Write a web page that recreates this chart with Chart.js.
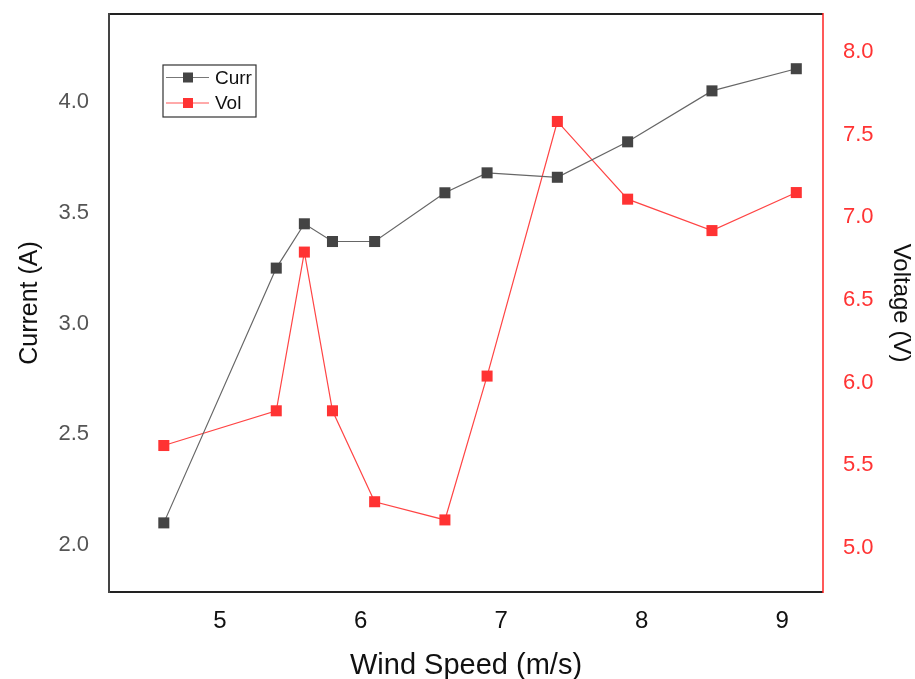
<!DOCTYPE html>
<html>
<head>
<meta charset="utf-8">
<script src="https://cdn.jsdelivr.net/npm/chart.js@4"></script>
<style>
html,body{margin:0;padding:0;background:#fff;}
#wrap{position:relative;width:915px;height:679px;}
</style>
</head>
<body>
<div id="wrap"><canvas id="c" width="915" height="679"></canvas></div>
<script>
const windSpeed = [4.6, 5.4, 5.6, 5.8, 6.1, 6.6, 6.9, 7.4, 7.9, 8.5, 9.1];
const current = [2.10, 3.25, 3.45, 3.37, 3.37, 3.59, 3.68, 3.66, 3.82, 4.05, 4.15];
const voltage = [5.62, 5.83, 6.79, 5.83, 5.28, 5.17, 6.04, 7.58, 7.11, 6.92, 7.15];
const xTicks = [5, 6, 7, 8, 9];
const currentTicks = [2.0, 2.5, 3.0, 3.5, 4.0];
const voltageTicks = [5.0, 5.5, 6.0, 6.5, 7.0, 7.5, 8.0];

const FONT = "'Liberation Sans', Arial, sans-serif";
const curData = windSpeed.map((x, i) => ({x, y: current[i]}));
const volData = windSpeed.map((x, i) => ({x, y: voltage[i]}));

function noPad(s) { s.paddingTop = 0; s.paddingBottom = 0; s.paddingLeft = 0; s.paddingRight = 0; }

const framePlugin = {
  id: 'frame',
  afterDraw(chart) {
    const {ctx, chartArea: a} = chart;
    ctx.save();
    ctx.lineWidth = 2;
    ctx.strokeStyle = '#222';
    ctx.beginPath();
    ctx.moveTo(a.right, a.top); ctx.lineTo(a.left, a.top);
    ctx.moveTo(a.left, a.bottom); ctx.lineTo(a.right, a.bottom);
    ctx.stroke();
    ctx.strokeStyle = '#444';
    ctx.beginPath();
    ctx.moveTo(a.left, a.top - 1); ctx.lineTo(a.left, a.bottom + 1);
    ctx.stroke();
    ctx.strokeStyle = '#ff2222';
    ctx.lineWidth = 1.5;
    ctx.beginPath();
    ctx.moveTo(a.right, a.top - 1); ctx.lineTo(a.right, a.bottom + 1);
    ctx.stroke();

    // legend
    const lx = 163, ly = 65, lw = 93, lh = 52;
    ctx.lineWidth = 1.2;
    ctx.strokeStyle = '#333';
    ctx.strokeRect(lx, ly, lw, lh);
    const items = [
      {label: 'Curr', line: '#777', fill: '#444', y: ly + 12.5},
      {label: 'Vol', line: '#ff5555', fill: '#ff3333', y: ly + 38}
    ];
    items.forEach(it => {
      ctx.strokeStyle = it.line;
      ctx.lineWidth = 1;
      ctx.beginPath();
      ctx.moveTo(lx + 3, it.y); ctx.lineTo(lx + 46, it.y);
      ctx.stroke();
      ctx.fillStyle = it.fill;
      ctx.fillRect(lx + 20, it.y - 5, 10, 10);
      ctx.fillStyle = '#111';
      ctx.font = '19px ' + FONT;
      ctx.textBaseline = 'middle';
      ctx.textAlign = 'left';
      ctx.fillText(it.label, lx + 52, it.y + 1);
    });
    ctx.restore();
  }
};

new Chart(document.getElementById('c'), {
  type: 'scatter',
  data: {
    datasets: [
      {
        label: 'Curr', data: curData, yAxisID: 'y', showLine: true,
        borderColor: '#666', borderWidth: 1.2,
        pointStyle: 'rect', pointRadius: 7.8, pointHoverRadius: 7.8,
        pointBackgroundColor: '#444', pointBorderColor: '#444', pointBorderWidth: 0
      },
      {
        label: 'Vol', data: volData, yAxisID: 'y1', showLine: true,
        borderColor: '#ff4444', borderWidth: 1.2,
        pointStyle: 'rect', pointRadius: 7.8, pointHoverRadius: 7.8,
        pointBackgroundColor: '#ff3333', pointBorderColor: '#ff3333', pointBorderWidth: 0
      }
    ]
  },
  options: {
    responsive: false,
    animation: false,
    layout: {padding: {top: 14, left: 0, right: 0, bottom: 0}},
    plugins: {legend: {display: false}, tooltip: {enabled: false}},
    scales: {
      x: {
        type: 'linear', min: 4.21, max: 9.29,
        grid: {display: false, drawTicks: false},
        border: {display: false},
        afterBuildTicks(s) { s.ticks = xTicks.map(v => ({value: v})); },
        afterFit(s) { s.height = 87; noPad(s); },
        ticks: {color: '#111', font: {family: FONT, size: 24}, padding: 15,
          callback: v => String(v)},
        title: {display: true, text: 'Wind Speed (m/s)', color: '#111',
          font: {family: FONT, size: 29}, padding: {top: 6, bottom: -4}}
      },
      y: {
        type: 'linear', position: 'left', min: 1.788, max: 4.397,
        grid: {display: false, drawTicks: false},
        border: {display: false},
        afterBuildTicks(s) { s.ticks = currentTicks.map(v => ({value: v})); },
        afterFit(s) { s.width = 109; noPad(s); },
        ticks: {color: '#555', font: {family: FONT, size: 22}, padding: 20,
          callback: v => v.toFixed(1)},
        title: {display: true, text: 'Current (A)', color: '#111',
          font: {family: FONT, size: 25}, padding: {top: 15, bottom: 0}}
      },
      y1: {
        type: 'linear', position: 'right', min: 4.734, max: 8.23,
        grid: {display: false, drawTicks: false},
        border: {display: false},
        afterBuildTicks(s) { s.ticks = voltageTicks.map(v => ({value: v})); },
        afterFit(s) { s.width = 92; noPad(s); },
        ticks: {color: '#ff3333', font: {family: FONT, size: 22}, padding: 20,
          callback: v => v.toFixed(1)},
        title: {display: true, text: 'Voltage (V)', color: '#111',
          font: {family: FONT, size: 24}, padding: {top: 0, bottom: 0}}
      }
    }
  },
  plugins: [framePlugin]
});
</script>
</body>
</html>
